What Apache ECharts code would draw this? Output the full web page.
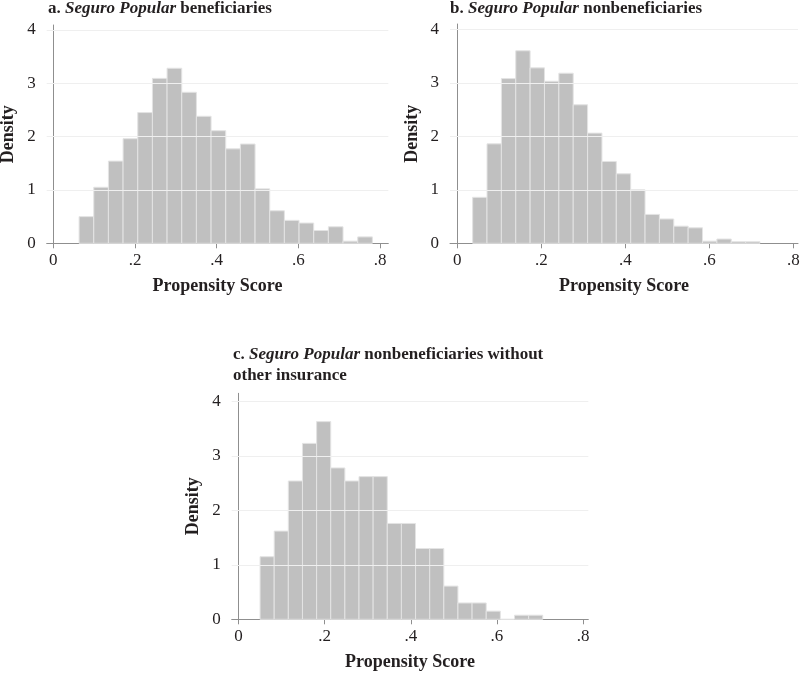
<!DOCTYPE html>
<html>
<head>
<meta charset="utf-8">
<script src="https://cdn.jsdelivr.net/npm/echarts@6/dist/echarts.min.js"></script>
<style>
  html, body { margin: 0; padding: 0; background: #fff; }
  #container { width: 800px; height: 674px; }
</style>
</head>
<body>
<div id="container"></div>
<script>
// tick labels
const xTicks = [0, 0.2, 0.4, 0.6, 0.8]
const yTicks = [0, 1, 2, 3, 4]

// a. beneficiaries
const binStartA = 0.063
const binWidthA = 0.0359
const densityA = [0.5, 1.05, 1.54, 1.96, 2.45, 3.09, 3.28, 2.83, 2.38, 2.11,
  1.77, 1.86, 1.02, 0.61, 0.43, 0.38, 0.24, 0.31, 0.04, 0.12]

// b. nonbeneficiaries
const binStartB = 0.0365
const binWidthB = 0.0342
const densityB = [0.86, 1.86, 3.08, 3.6, 3.28, 3.03, 3.18, 2.59, 2.06, 1.53,
  1.3, 1.0, 0.54, 0.455, 0.32, 0.29, 0.04, 0.08, 0.03, 0.03]

// c. nonbeneficiaries without other insurance
const binStartC = 0.0503
const binWidthC = 0.0328
const densityC = [1.15, 1.62, 2.54, 3.23, 3.63, 2.78, 2.54, 2.62, 2.62, 1.76,
  1.76, 1.3, 1.3, 0.61, 0.3, 0.3, 0.15, 0, 0.075, 0.075]

const FONT = 'Liberation Serif'
const AXIS_GRAY = '#8f8f8f'
const INK = '#231f20'

const toBins = (start, width, heights) =>
  heights.map((h, i) => [start + i * width, start + (i + 1) * width, h])

const panels = [
  { title: '{n|a. }{i|Seguro Popular}{n| beneficiaries}', titleLeft: 48, titleTop: -2,
    grid: { left: 46.7, top: 25, width: 341.6, height: 218.3 },
    xMin: -0.0163, xMax: 0.82, yMax: 4.09, bins: toBins(binStartA, binWidthA, densityA) },
  { title: '{n|b. }{i|Seguro Popular}{n| nonbeneficiaries}', titleLeft: 450, titleTop: -2,
    grid: { left: 450, top: 24, width: 348, height: 219.3 },
    xMin: -0.0174, xMax: 0.811, yMax: 4.1, bins: toBins(binStartB, binWidthB, densityB) },
  { title: '{n|c. }{i|Seguro Popular}{n| nonbeneficiaries without}\n{n|other insurance}', titleLeft: 233, titleTop: 344,
    grid: { left: 231.7, top: 393.3, width: 356.6, height: 226 },
    xMin: -0.0155, xMax: 0.812, yMax: 4.15, bins: toBins(binStartC, binWidthC, densityC) }
]

const richText = {
  n: { fontFamily: FONT, fontSize: 17, fontWeight: 'bold', color: INK, lineHeight: 21 },
  i: { fontFamily: FONT, fontSize: 17, fontWeight: 'bold', fontStyle: 'italic', color: INK, lineHeight: 21 }
}

const myChart = echarts.init(document.getElementById('container'))

myChart.setOption({
  animation: false,
  title: panels.map(p => ({
    text: p.title,
    left: p.titleLeft,
    top: p.titleTop,
    padding: 0,
    textStyle: { rich: richText }
  })),
  grid: panels.map(p => Object.assign({ outerBoundsMode: 'none', containLabel: false }, p.grid)),
  xAxis: panels.map((p, i) => ({
    type: 'value',
    gridIndex: i,
    min: p.xMin,
    max: p.xMax,
    name: 'Propensity Score',
    nameLocation: 'middle',
    nameGap: 34,
    nameTextStyle: { fontFamily: FONT, fontSize: 18, fontWeight: 'bold', color: INK },
    axisLine: { onZero: false, lineStyle: { color: AXIS_GRAY, width: 1 } },
    axisTick: { customValues: xTicks, length: 5, lineStyle: { color: AXIS_GRAY } },
    axisLabel: {
      customValues: xTicks,
      margin: 9,
      fontFamily: FONT,
      fontSize: 17,
      color: INK,
      formatter: v => (v === 0 ? '0' : String(v).replace(/^0/, ''))
    },
    splitLine: { show: false }
  })),
  yAxis: panels.map((p, i) => ({
    type: 'value',
    gridIndex: i,
    min: 0,
    max: p.yMax,
    name: 'Density',
    nameLocation: 'middle',
    nameGap: 29,
    nameTextStyle: { fontFamily: FONT, fontSize: 18, fontWeight: 'bold', color: INK },
    axisLine: { show: true, lineStyle: { color: AXIS_GRAY, width: 1 } },
    axisTick: { show: true, customValues: yTicks, length: 5, lineStyle: { color: AXIS_GRAY } },
    axisLabel: {
      customValues: yTicks,
      margin: 11,
      fontFamily: FONT,
      fontSize: 17,
      color: INK
    },
    splitLine: { show: false }
  })),
  series: panels.map((p, i) => ({
    type: 'custom',
    xAxisIndex: i,
    yAxisIndex: i,
    data: p.bins,
    encode: { x: [0, 1], y: 2 },
    renderItem: (params, api) => {
      const topLeft = api.coord([api.value(0), api.value(2)])
      const bottomRight = api.coord([api.value(1), 0])
      return {
        type: 'rect',
        shape: {
          x: topLeft[0],
          y: topLeft[1],
          width: bottomRight[0] - topLeft[0],
          height: bottomRight[1] - topLeft[1]
        },
        style: { fill: '#c0c0c0', stroke: '#e4e4e4', lineWidth: 1 }
      }
    },
    markLine: {
      silent: true,
      symbol: 'none',
      label: { show: false },
      lineStyle: { color: '#efefef', type: 'solid', width: 1 },
      data: yTicks.filter(v => v > 0).map(v => ({ yAxis: v }))
    }
  }))
})
</script>
</body>
</html>
